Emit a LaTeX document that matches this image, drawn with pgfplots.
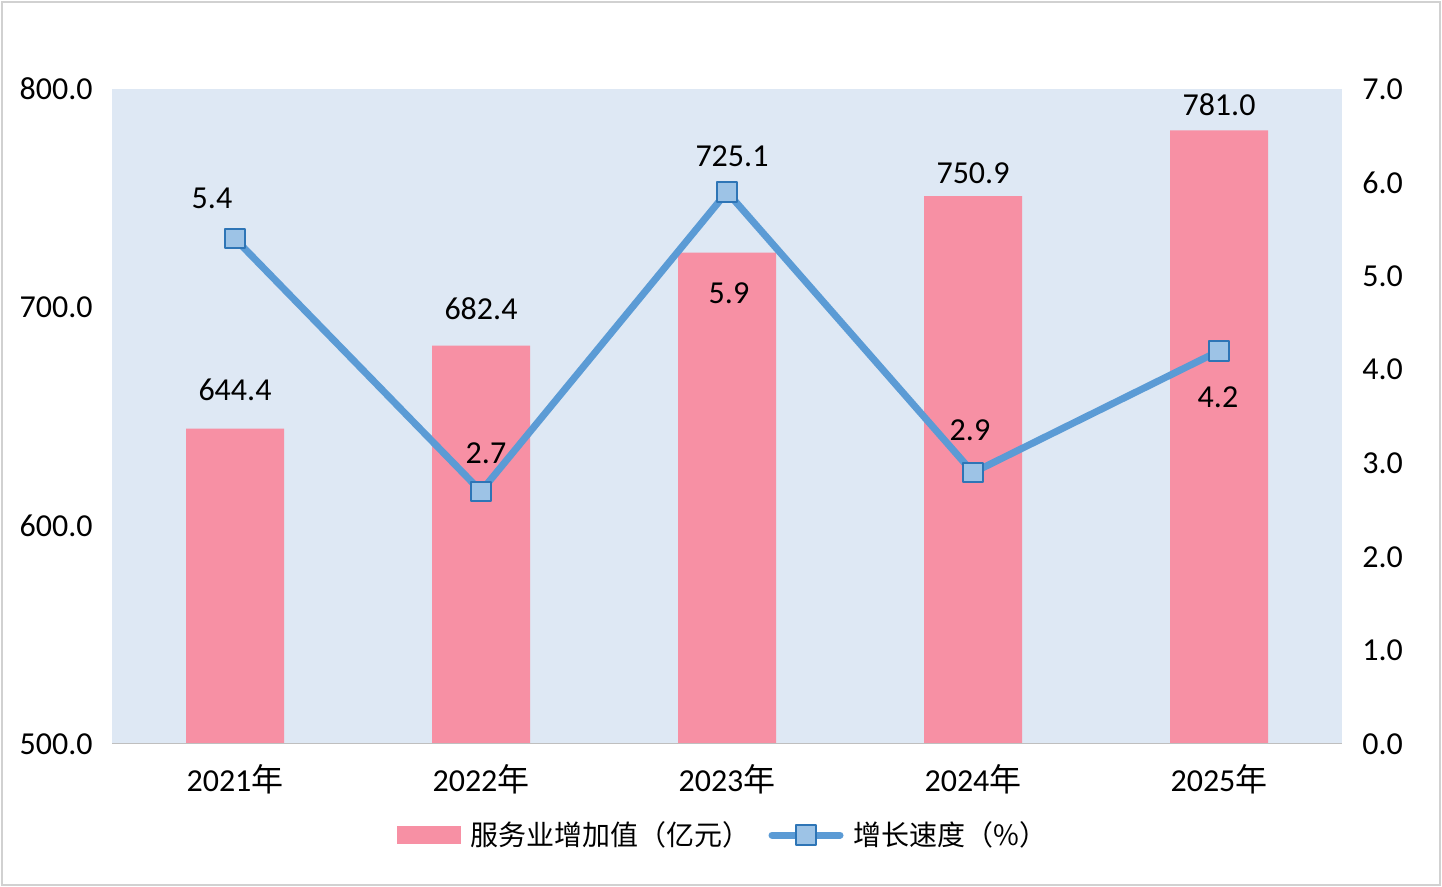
\documentclass[border=0pt]{standalone}
\usepackage{pgfplots}
\pgfplotsset{compat=1.18}
\usepackage{pgfplotstable}
\usepackage{fontspec}
\setmainfont{Carlito}
\newfontfamily\cjk{Noto Sans CJK SC}

\definecolor{barpink}{HTML}{F790A4}
\definecolor{bgblue}{HTML}{DEE8F4}
\definecolor{lineblue}{HTML}{5B9BD5}
\definecolor{mfill}{HTML}{9DC3E6}
\definecolor{mdraw}{HTML}{2E75B6}

\pgfplotstableread{
x y dx dy
0 644.4 0 19.5
1 682.4 0 18.5
2 725.1 2.5 48
3 750.9 0 11.5
4 781.0 0 12.75
}\bars

\pgfplotstableread{
x y dx dy
0 5.4 -11.5 20
1 2.7 2.5 19
2 5.9 1 -50.5
3 2.9 -1.5 21
4 4.2 -0.5 -23
}\growth

\begin{document}
\begin{tikzpicture}
\path[use as bounding box] (0pt,0pt) rectangle (721pt,443.5pt);
\draw[color=black!18, line width=1.3pt] (1pt,1pt) rectangle (720pt,442.5pt);

\begin{axis}[
  at={(56pt,71.5pt)}, anchor=south west,
  scale only axis, width=615pt, height=327.5pt,
  xmin=-0.5, xmax=4.5, ymin=500, ymax=800,
  ytick={500,600,700,800},
  xtick={0,1,2,3,4},
  xticklabels={2021{\cjk 年},2022{\cjk 年},2023{\cjk 年},2024{\cjk 年},2025{\cjk 年}},
  axis background/.style={fill=bgblue},
  axis line style={draw=none},
  major tick length=0pt,
  tick label style={font=\fontsize{16}{19}\selectfont, text=black},
  yticklabel style={inner sep=0pt, anchor=east, /pgf/number format/fixed, /pgf/number format/fixed zerofill, /pgf/number format/precision=1},
  yticklabel shift=9.5pt,
  xticklabel style={inner sep=0pt, anchor=north},
  xticklabel shift=10pt,
  /pgf/number format/assume math mode=true,
]
\addplot[ybar, bar width=49pt, fill=barpink, draw=none,
  nodes near coords,
  visualization depends on={\thisrow{dx} \as \ddx},
  visualization depends on={\thisrow{dy} \as \ddy},
  every node near coord/.append style={anchor=center, xshift=\ddx pt, yshift=\ddy pt,
     font=\fontsize{16}{19}\selectfont, text=black,
     /pgf/number format/fixed, /pgf/number format/fixed zerofill, /pgf/number format/precision=1}
] table[x=x,y=y] {\bars};
\draw[black!25, line width=1.2pt] (rel axis cs:0,0) -- (rel axis cs:1,0);
\end{axis}

\begin{axis}[
  at={(56pt,71.5pt)}, anchor=south west,
  scale only axis, width=615pt, height=327.5pt,
  xmin=-0.5, xmax=4.5, ymin=0, ymax=7,
  ytick={0,1,2,3,4,5,6,7},
  axis x line=none,
  axis y line*=right,
  axis line style={draw=none},
  major tick length=0pt,
  tick label style={font=\fontsize{16}{19}\selectfont, text=black},
  yticklabel style={inner sep=0pt, anchor=west, /pgf/number format/fixed, /pgf/number format/fixed zerofill, /pgf/number format/precision=1},
  yticklabel shift=10pt,
  /pgf/number format/assume math mode=true,
  legend style={at={(0.5,-0.139)}, anchor=center, draw=none, fill=none,
     legend columns=2, font=\cjk\fontsize{14}{17}\selectfont,
     nodes={inner xsep=5pt, inner ysep=0pt},
     /tikz/every even column/.append style={column sep=4pt}},
]
\addlegendimage{legend image code/.code={\fill[barpink] (0pt,-4.25pt) rectangle (31.5pt,4.25pt);}}
\addlegendentry{服务业增加值（亿元）}
\addplot[lineblue, line width=3.5pt, line join=round,
  mark=square*, mark size=4.8pt,
  mark options={fill=mfill, draw=mdraw, line width=1pt},
  nodes near coords,
  visualization depends on={\thisrow{dx} \as \ddx},
  visualization depends on={\thisrow{dy} \as \ddy},
  every node near coord/.append style={anchor=center, xshift=\ddx pt, yshift=\ddy pt,
     font=\fontsize{16}{19}\selectfont, text=black,
     /pgf/number format/fixed, /pgf/number format/fixed zerofill, /pgf/number format/precision=1},
  legend image code/.code={\draw[lineblue, line width=3.5pt, line cap=round] (0pt,0pt) -- (34pt,0pt);
     \draw[fill=mfill, draw=mdraw, line width=1pt] (12.2pt,-4.8pt) rectangle (21.8pt,4.8pt);}
] table[x=x,y=y] {\growth};
\addlegendentry{增长速度（\%）}
\end{axis}
\end{tikzpicture}
\end{document}
